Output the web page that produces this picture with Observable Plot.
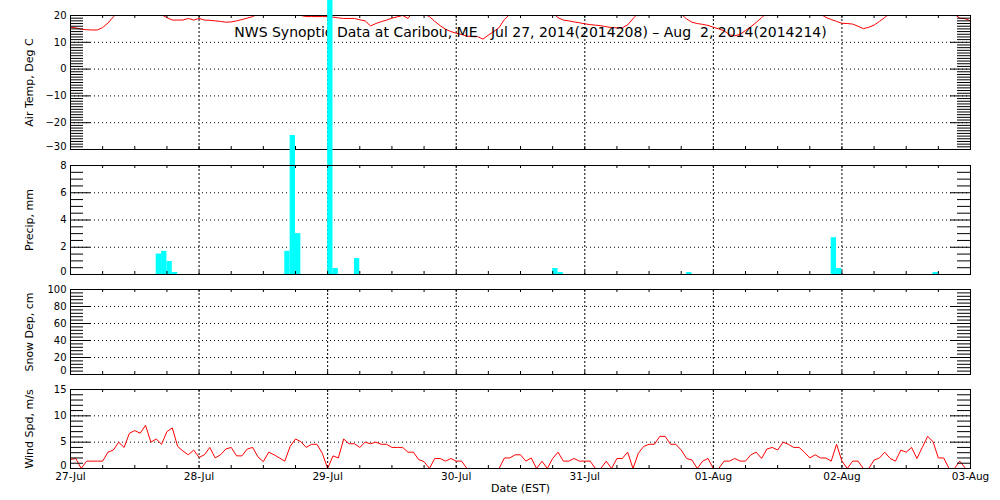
<!DOCTYPE html>
<html><head><meta charset="utf-8">
<script src="https://cdn.jsdelivr.net/npm/d3@7"></script>
<script src="https://cdn.jsdelivr.net/npm/@observablehq/plot@0.6"></script>
<style>
body{margin:0;background:#fff;}
#chart{position:relative;width:1000px;height:500px;overflow:hidden;background:#fff;}
#chart svg{position:absolute;left:0;overflow:visible;}
</style></head><body><div id="chart"></div>
<script>
// ---------- data (hour offsets from 27-Jul-2014 00:00 EST) ----------
const titleText = "NWS Synoptic Data at Caribou, ME\u00a0\u00a0\u00a0Jul 27, 2014(2014208) \u2013 Aug\u00a0\u00a02, 2014(2014214)";
const dayLabels = ["27-Jul","28-Jul","29-Jul","30-Jul","31-Jul","01-Aug","02-Aug","03-Aug"];

// hourly air temperature, deg C (hours 0..168)
const airTemp = [
 15.6,15.4,14.9,14.7,14.6,14.6,15.5,17.2,19.5,21.5,23,24.5,25.5,26.5,26,24,22,20.3,19.2,18.3,18.3,18.3,18.9,18.3,
 18.9,18.3,18.2,18.0,17.8,17.5,17.6,18.0,18.5,19.0,19.6,20.5,22,23.5,25,25.5,25,23.5,21.5,20.0,19.6,19.6,19.6,19.6,
 19.6,19.4,19.1,18.9,18.9,18.9,18.4,18.0,16.1,17.0,17.7,18.3,19.0,19.5,20.0,18.9,21.5,22,20.5,19.6,17.8,16.2,14.9,14.0,
 13.4,12.9,12.3,12.1,12.1,11.2,12.7,14.0,15.5,18.5,20.5,22,24,25.5,26,25.5,24,22.5,21,19.2,18.3,18.0,17.6,17.3,
 16.9,16.6,16.4,16.2,15.8,15.5,15.4,15.4,16.5,18.8,21,23,24.5,26,26.5,26,24.5,22.5,20.5,18.7,17.5,17.0,16.7,16.3,
 15.6,15.0,14.3,12.8,12.4,13.0,14.4,15.8,17.4,19.2,21,22.5,24,25.5,26.5,27,26.5,25,23.5,22,20.5,19.3,18.5,17.8,
 17.1,17.0,16.8,16.0,15.1,15.6,16.4,17.8,19.3,20.8,22,23.5,25,26,27,27.5,27,26,25,23.5,22,20.5,19.0,18.8,
 18.0
];

// hourly precipitation, mm
const precipHour = [16,17,18,19,40,41,42,48,49,53,90,91,115,142,143,161];
const precipMM   = [1.5,1.7,0.95,0.15,1.7,10.2,3.0,22,0.44,1.17,0.44,0.15,0.15,2.7,0.44,0.15];

// hourly wind speed, m/s (hours 0..167)
const windSpeed = [
 1.7,1.9,0,1.4,1.4,1.4,1.4,3.1,3.5,5.0,4.0,6.7,7.2,6.7,8.2,5.0,5.6,4.6,7.0,7.7,4.2,3.3,2.6,3.5,
 2.1,2.6,4.0,2.0,2.6,3.7,4.0,2.4,2.4,3.7,4.0,2.2,1.3,3.1,2.6,2.0,1.4,4.2,5.6,5.1,4.0,4.6,4.6,2.9,
 0,2.4,2.0,5.6,4.7,4.7,4.0,5.0,4.7,5.0,4.6,4.6,4.0,4.0,4.0,3.1,3.1,1.7,1.3,0,1.9,1.9,1.4,1.9,
 1.4,1.4,0,0,0,0,0,0,0,2.0,2.0,2.6,2.6,1.4,2.0,0,1.4,0,1.9,3.1,1.4,1.4,1.9,1.4,
 1.4,1.4,0,0,1.4,0,1.9,1.9,3.1,0,2.9,4.2,4.6,4.6,6.1,6.1,4.6,4.6,3.5,1.9,1.6,0,1.4,1.9,
 0,0,1.4,1.4,1.9,1.4,1.4,2.6,3.1,1.9,3.7,4.0,3.5,5.0,4.6,4.0,4.0,3.1,2.0,2.6,2.0,2.0,1.4,4.6,
 1.4,0,1.4,1.4,0,0,1.6,2.0,3.1,1.9,1.4,3.5,3.1,4.0,1.9,4.0,6.1,5.1,2.0,2.0,0,0,1.4,0.1
];

// y-axis tick labels per panel
const tempTicks = [20,10,0,-10,-20,-30];
const precipTicks = [8,6,4,2,0];
const snowTicks = [100,80,60,40,20,0];
const windTicks = [15,10,5,0];

// ---------- helpers ----------
const T0 = Date.UTC(2014, 6, 27);
const at = h => new Date(T0 + h * 3600e3);
const xDomain = [at(0), at(168)];
const days = dayLabels.map((_, i) => at(i * 24));
const innerDays = days.slice(1, -1);
const sixHours = d3.range(0, 169, 6).map(at);
const FONT = "DejaVu Sans, sans-serif";
const W = 1000, ML = 70, MR = 30, FW = W - ML - MR;

function panel({top, height, mTop, mBottom, domain, ticks, minorStep, ytitle, marks, bottomAxis, lowLift}) {
  const FH = height - mTop - mBottom;
  const majorInner = ticks.filter(v => v > domain[0] && v < domain[1]);
  const minors = d3.range(domain[0], domain[1] + 1e-9, minorStep)
    .map(v => +v.toFixed(4))
    .filter(v => !ticks.includes(v));
  const upper = ticks.filter(v => v !== domain[0]);
  const lowest = ticks.filter(v => v === domain[0]);
  const all = [
    Plot.ruleY(majorInner, {stroke: "black", strokeDasharray: "1,3"}),
    Plot.ruleX(innerDays, {stroke: "black", strokeDasharray: "2,2"}),
    ...marks,
    Plot.tickY(minors, {stroke: "black", insetRight: FW - 13}),
    Plot.tickY(minors, {stroke: "black", insetLeft: FW - 13}),
    Plot.tickY(majorInner, {stroke: "black", insetRight: FW - 20}),
    Plot.tickY(majorInner, {stroke: "black", insetLeft: FW - 20}),
    Plot.tickX(sixHours, {stroke: "black", insetBottom: FH - 3}),
    Plot.tickX(sixHours, {stroke: "black", insetTop: FH - 3}),
    Plot.frame({stroke: "black"}),
    Plot.axisY({ticks: upper, tickSize: 0, tickPadding: 4, fontSize: 10, label: null}),
    Plot.axisY({ticks: lowest, tickSize: 0, tickPadding: 4, fontSize: 10, label: null, dy: -lowLift}),
    Plot.text([ytitle], {frameAnchor: "left", textAnchor: "middle", rotate: -90, dx: -41, fontSize: 11, fill: "black"})
  ];
  if (bottomAxis) all.push(...bottomAxis);
  const svg = Plot.plot({
    width: W, height,
    marginLeft: ML, marginRight: MR, marginTop: mTop, marginBottom: mBottom,
    style: {fontFamily: FONT, background: "transparent", overflow: "visible", color: "black"},
    x: {type: "utc", domain: xDomain, axis: bottomAxis ? undefined : null},
    y: {domain},
    marks: all
  });
  svg.style.top = top + "px";
  document.getElementById("chart").appendChild(svg);
}

const tempRows = airTemp.map((v, i) => ({t: at(i), v}));
const windRows = windSpeed.map((v, i) => ({t: at(i), v}));
const precipRows = precipHour.map((h, i) => ({t1: at(h), t2: at(h + 1), v: precipMM[i]}));

panel({
  top: 0, height: 160, mTop: 15, mBottom: 11, domain: [-30, 20], ticks: tempTicks, minorStep: 1, lowLift: 3,
  ytitle: "Air Temp, Deg C",
  marks: [
    Plot.line(tempRows, {x: "t", y: "v", stroke: "red", strokeWidth: 1, clip: true}),
    Plot.text([titleText], {frameAnchor: "top", dx: 10, dy: 21, lineAnchor: "bottom", fontSize: 14, fill: "black"})
  ]
});

panel({
  top: 160, height: 125, mTop: 5, mBottom: 11, domain: [0, 8], ticks: precipTicks, minorStep: 0.5, lowLift: 3,
  ytitle: "Precip, mm",
  marks: [
    Plot.rectY(precipRows, {x1: "t1", x2: "t2", y: "v", fill: "cyan"})
  ]
});

panel({
  top: 285, height: 95, mTop: 4, mBottom: 6, domain: [0, 100], ticks: snowTicks, minorStep: 4, lowLift: 4,
  ytitle: "Snow Dep, cm",
  marks: []
});

panel({
  top: 380, height: 120, mTop: 9, mBottom: 32, domain: [0, 15], ticks: windTicks, minorStep: 1, lowLift: 3,
  ytitle: "Wind Spd, m/s",
  marks: [
    Plot.line(windRows, {x: "t", y: "v", stroke: "red", strokeWidth: 1})
  ],
  bottomAxis: [
    Plot.axisX({ticks: days, tickFormat: d => dayLabels[days.findIndex(x => +x === +d)], tickSize: 0, tickPadding: 4, fontSize: 10.5, label: null}),
    Plot.text(["Date (EST)"], {frameAnchor: "bottom", dy: 23, fontSize: 11, fill: "black"})
  ]
});
</script></body></html>
